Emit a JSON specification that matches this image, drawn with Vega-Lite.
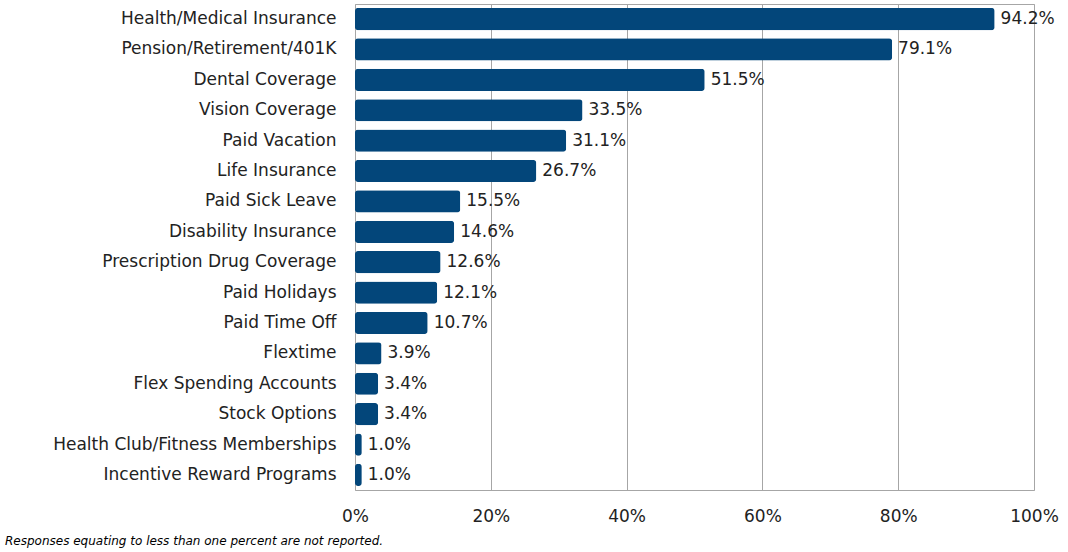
{
  "$schema": "https://vega.github.io/schema/vega-lite/v6.json",
  "autosize": {"type": "none"},
  "width": 679,
  "height": 486,
  "padding": {"left": 355, "top": 4, "right": 34, "bottom": 62},
  "background": "white",
  "config": {
    "view": {"stroke": "#a6a6a6", "strokeWidth": 1},
    "font": "DejaVu Sans"
  },
  "title": {
    "text": "Responses equating to less than one percent are not reported.",
    "orient": "bottom",
    "anchor": "start",
    "frame": "group",
    "dx": -350,
    "offset": 12,
    "font": "DejaVu Sans",
    "fontSize": 12,
    "fontStyle": "italic",
    "fontWeight": "normal",
    "color": "#000000"
  },
  "data": {
    "values": [
      {"benefit": "Health/Medical Insurance", "pct": 0.942},
      {"benefit": "Pension/Retirement/401K", "pct": 0.791},
      {"benefit": "Dental Coverage", "pct": 0.515},
      {"benefit": "Vision Coverage", "pct": 0.335},
      {"benefit": "Paid Vacation", "pct": 0.311},
      {"benefit": "Life Insurance", "pct": 0.267},
      {"benefit": "Paid Sick Leave", "pct": 0.155},
      {"benefit": "Disability Insurance", "pct": 0.146},
      {"benefit": "Prescription Drug Coverage", "pct": 0.126},
      {"benefit": "Paid Holidays", "pct": 0.121},
      {"benefit": "Paid Time Off", "pct": 0.107},
      {"benefit": "Flextime", "pct": 0.039},
      {"benefit": "Flex Spending Accounts", "pct": 0.034},
      {"benefit": "Stock Options", "pct": 0.034},
      {"benefit": "Health Club/Fitness Memberships", "pct": 0.010},
      {"benefit": "Incentive Reward Programs", "pct": 0.010}
    ]
  },
  "encoding": {
    "y": {
      "field": "benefit",
      "type": "nominal",
      "sort": null,
      "scale": {"paddingInner": 0.27, "paddingOuter": 0.13},
      "axis": {
        "title": null,
        "ticks": false,
        "domain": false,
        "labelPadding": 19,
        "labelFontSize": 17,
        "labelLimit": 0,
        "labelColor": "#222222",
        "labelFont": "DejaVu Sans"
      }
    },
    "x": {
      "field": "pct",
      "type": "quantitative",
      "scale": {"domain": [0, 1]},
      "axis": {
        "title": null,
        "format": "%",
        "values": [0, 0.2, 0.4, 0.6, 0.8, 1],
        "ticks": false,
        "domain": false,
        "grid": true,
        "gridColor": "#a6a6a6",
        "gridWidth": 1,
        "labelPadding": 18,
        "labelFontSize": 17,
        "labelColor": "#222222",
        "labelFont": "DejaVu Sans",
        "labelFlush": false
      }
    }
  },
  "layer": [
    {
      "mark": {"type": "bar", "color": "#03467a", "cornerRadius": 3}
    },
    {
      "mark": {"type": "text", "align": "left", "dx": 6, "fontSize": 17, "color": "#222222", "font": "DejaVu Sans"},
      "encoding": {
        "text": {"field": "pct", "type": "quantitative", "format": ".1%"}
      }
    }
  ]
}
